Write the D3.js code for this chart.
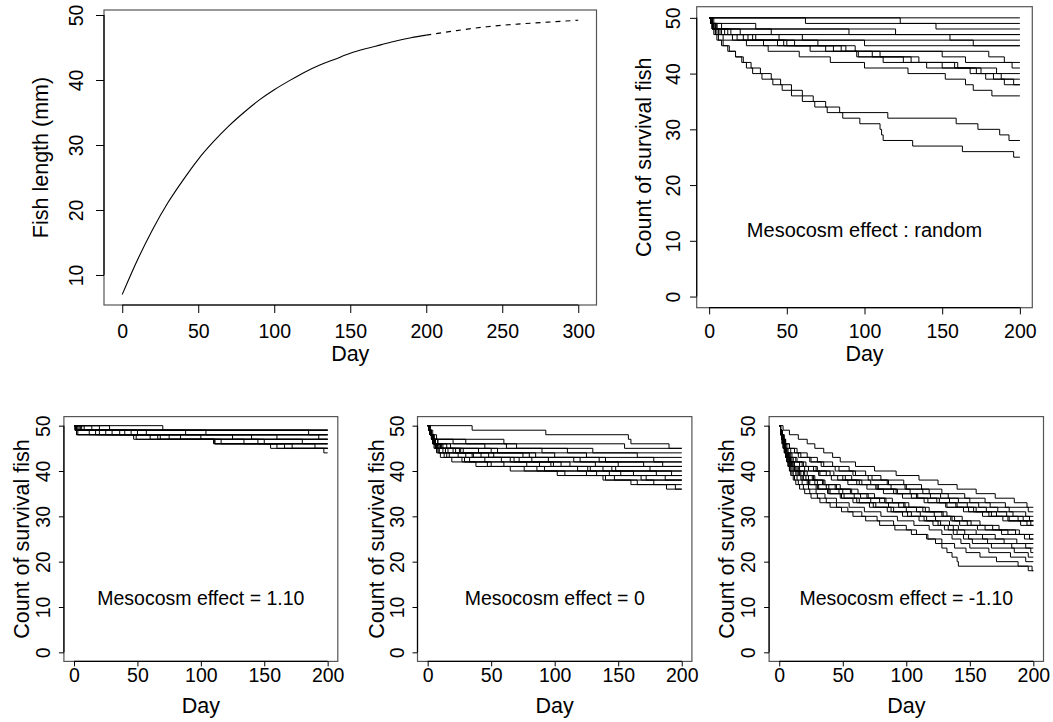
<!DOCTYPE html>
<html>
<head>
<meta charset="utf-8">
<script src="https://cdn.jsdelivr.net/npm/d3@7"></script>
<style>
  body { margin: 0; background: #fff; }
  text { font-family: "Liberation Sans", Arial, Helvetica, sans-serif; fill: #000; }
</style>
</head>
<body>
<svg id="fig" width="1053" height="722"></svg>
<script>
// growth curve
var growthDays = [0,10,20,30,40,50,60,70,80,90,100,110,120,130,140,150,160,170,180,190,200,220,240,260,280,300];
var growthLen  = [7.0,12.3,17.0,21.1,24.6,27.8,30.5,32.9,35.0,36.9,38.5,39.9,41.2,42.3,43.2,44.1,44.8,45.4,46.0,46.5,46.9,47.6,48.2,48.6,48.9,49.2];

// survival curves: the days on which one fish died (start at 50 fish, end at day 200)
var deathsRandom = [
  [],
  [123],
  [62,146],
  [3,30,90],
  [1,8,120],
  [2,5,40,155],
  [1,3,10,60,100],
  [2,4,20,45,170],
  [1,2,5,15,35,80,150,165],
  [1,3,8,25,55,94,180,190,195],
  [2,4,12,30,70,85,110,130,160,185],
  [1,2,6,18,44,65,95,112,140,175,188],
  [1,3,7,22,50,75,96,125,150,168,178,190],
  [2,5,14,28,48,88,105,135,158,172,183,196],
  [1,2,4,9,24,38,58,78,100,128,152,165,170,182],
  [1,2,3,5,8,12,17,22,27,33,40,46,53,60,67,75,84,115,159,173,187,193],
  [1,2,4,6,9,13,17,21,24,28,34,41,47,53,60,68,76,86,97,110,111,112,131,163,196]
];

var deathsPlus = [
  [5],[28],[70],[1],
  [2,40],[14,104],[1,185],[20,88],
  [1,2,47],[8,50,140],[3,36,160],[1,57,193],
  [2,20,66,110],[4,45,125,180],[1,12,84,150],
  [1,2,49,111,155],[6,30,100,134,166],[2,17,75,145,172],[1,3,60,116,190],
  [2,25,68,111,160,197]
];

var deathsZero = [
  [35,93,158,160,190],
  [1,3,5,60,155],
  [1,2,4,8,70,130],
  [2,3,5,20,45,110,165],
  [1,2,3,6,15,50,100,140],
  [1,4,7,30,62,90,125,178],
  [1,2,3,5,10,25,80,120,150],
  [2,3,4,8,18,40,85,135,170],
  [1,2,5,6,12,55,75,115,185],
  [1,2,3,4,7,22,36,65,105,145],
  [1,3,4,6,9,28,48,95,132,175],
  [1,2,3,5,8,14,30,58,88,128,162],
  [1,2,4,5,10,20,42,72,99,138,180],
  [2,3,4,6,11,26,52,82,112,148,192],
  [1,2,3,4,6,9,17,33,60,92,133,168],
  [1,2,3,5,7,12,24,45,78,118,152,187],
  [1,2,4,5,8,16,35,68,97,126,143,172],
  [1,2,3,4,5,8,13,27,50,76,108,138,160],
  [1,2,3,4,6,7,10,19,38,65,102,140,165,188],
  [1,2,3,5,6,9,15,29,47,86,125,147,178,195]
];

var deathsMinus = [
  [3,8,15,22,28,35,42,48,60,75,92,110,125,140,155,170,185,195],
  [1,2,4,5,8,14,22,30,42,55,68,80,98,112,128,146,162,178,196],
  [1,2,3,4,6,9,15,24,33,44,58,70,85,100,118,133,150,166,181,194],
  [1,1,2,3,4,5,7,10,18,27,40,52,65,78,92,108,124,139,155,171,188],
  [1,2,3,5,8,12,17,25,35,47,60,73,86,99,113,127,141,157,172,184,197],
  [1,2,2,3,4,6,9,13,19,30,43,57,72,88,103,119,134,148,163,179,192],
  [1,2,3,4,5,6,8,11,16,23,32,46,61,77,93,109,126,140,153,167,181,198],
  [1,2,3,3,4,5,7,9,12,20,31,41,54,69,82,97,114,131,145,160,176,190],
  [1,1,2,3,5,7,10,14,21,29,37,50,63,76,90,104,117,132,149,165,180,195],
  [1,2,3,4,5,6,7,9,12,16,22,28,36,48,62,75,89,102,118,132,144,158,173,189],
  [1,1,2,3,4,5,6,8,10,14,19,26,34,45,57,70,84,98,113,129,138,151,168,186],
  [1,2,2,3,4,5,6,8,10,13,17,23,30,39,50,64,79,94,108,122,135,142,156,175,193],
  [1,2,3,3,4,5,7,9,11,15,20,27,35,44,56,69,83,99,115,128,136,148,162,180,197],
  [1,1,2,3,4,5,6,7,9,12,16,21,28,37,47,59,72,86,100,111,123,134,141,155,170,187],
  [1,2,3,4,4,5,6,8,10,12,15,19,24,31,40,51,63,76,90,104,116,127,137,146,160,177,194],
  [1,1,2,3,4,5,6,7,8,10,13,17,22,29,38,49,61,74,88,101,114,125,133,140,149,164,183,198],
  [1,2,2,3,4,5,6,7,9,11,14,18,23,30,39,48,58,71,85,97,110,121,130,137,145,152,167,185,196],
  [1,1,2,3,3,4,5,6,7,9,11,14,18,23,29,36,45,55,67,80,93,106,118,128,136,143,150,165,182,194],
  [1,1,2,2,3,4,5,6,7,8,10,12,15,19,24,30,37,45,54,65,77,90,100,108,116,123,128,132,136,140,141,196],
  [1,2,2,3,4,4,5,6,7,8,9,11,13,16,20,25,32,40,49,58,68,79,91,104,117,128,138,147,158,171,188,199]
];

var dayTicksLong  = [0,50,100,150,200,250,300];
var dayTicks      = [0,50,100,150,200];
var lengthTicks   = [10,20,30,40,50];
var countTicks    = [0,10,20,30,40,50];
var effectLabels  = ["Mesocosm effect : random", "Mesocosm effect = 1.10", "Mesocosm effect = 0", "Mesocosm effect = -1.10"];

var svg = d3.select("#fig");

function stepPoints(deaths) {
  var n = 50, pts = [[0, 50]];
  deaths.forEach(function(d) { n -= 1; pts.push([d, n]); });
  pts.push([200, n]);
  return pts;
}

// one R-style panel: box, axes with outward ticks, rotated y labels
function panel(p) {
  var g = svg.append("g");
  var x = d3.scaleLinear().domain(p.xd).range([p.l, p.r]);
  var y = d3.scaleLinear().domain(p.yd).range([p.b, p.t]);

  g.append("rect").attr("x", p.l).attr("y", p.t)
    .attr("width", p.r - p.l).attr("height", p.b - p.t)
    .attr("fill", "none").attr("stroke", "#555").attr("stroke-width", 1.2);

  var xa = g.append("g").attr("transform", "translate(0," + p.b + ")")
    .call(d3.axisBottom(x).tickValues(p.xt).tickSize(p.tick).tickSizeOuter(0).tickFormat(d3.format("d")));
  xa.select(".domain").remove();
  xa.selectAll("line").attr("stroke", "#000");
  xa.selectAll("text").attr("y", p.xlab).attr("dy", 0).style("font-size", p.fs + "px");
  xa.append("line").attr("x1", x(p.xt[0])).attr("x2", x(p.xt[p.xt.length - 1]))
    .attr("stroke", "#000").attr("stroke-width", 1.2);

  var ya = g.append("g").attr("transform", "translate(" + p.l + ",0)")
    .call(d3.axisLeft(y).tickValues(p.yt).tickSize(p.tick).tickSizeOuter(0).tickFormat(d3.format("d")));
  ya.select(".domain").remove();
  ya.selectAll("line").attr("stroke", "#000");
  ya.selectAll("text")
    .attr("x", null).attr("dy", 0)
    .attr("text-anchor", "middle")
    .attr("transform", "translate(" + (-p.ylab) + ",0) rotate(-90)")
    .style("font-size", p.fs + "px");
  ya.append("line").attr("y1", y(p.yt[0])).attr("y2", y(p.yt[p.yt.length - 1]))
    .attr("stroke", "#000").attr("stroke-width", 1.2);

  g.append("text").attr("x", (p.l + p.r) / 2).attr("y", p.xtitle)
    .attr("text-anchor", "middle").style("font-size", p.fst + "px").text("Day");
  g.append("text")
    .attr("transform", "translate(" + p.ytitle + "," + ((p.t + p.b) / 2) + ") rotate(-90)")
    .attr("text-anchor", "middle").style("font-size", p.fst + "px").text(p.ylabel);

  return { g: g, x: x, y: y };
}

// top left: growth curve
var pg = panel({ l: 104, r: 596.5, t: 10, b: 305, xd: [-12, 312], yd: [5.38, 50.77],
  xt: dayTicksLong, yt: lengthTicks, tick: 8, xlab: 33, ylab: 20.7, xtitle: 361, ytitle: 48,
  fs: 19.5, fst: 21.5, ylabel: "Fish length (mm)" });
var growth = growthDays.map(function(d, i) { return [d, growthLen[i]]; });
var gline = d3.line().x(function(d) { return pg.x(d[0]); }).y(function(d) { return pg.y(d[1]); })
  .curve(d3.curveMonotoneX);
pg.g.append("path").attr("d", gline(growth.filter(function(d) { return d[0] <= 200; })))
  .attr("fill", "none").attr("stroke", "#000").attr("stroke-width", 1.1);
pg.g.append("path").attr("d", gline(growth.filter(function(d) { return d[0] >= 200; })))
  .attr("fill", "none").attr("stroke", "#000").attr("stroke-width", 1.1).attr("stroke-dasharray", "5,5");

// survival panels
var survSpecs = [
  { data: deathsRandom, l: 696.7, r: 1032.3, t: 6.7, b: 307.7, tick: 6.7, xlab: 30.5, ylab: 16.7, xtitle: 361, ytitle: 651, fa: 20 },
  { data: deathsPlus,  l: 63.9,  r: 337.8,  t: 416.6, b: 661.4, tick: 5, xlab: 21, ylab: 14, xtitle: 713, ytitle: 29, fa: 19.5 },
  { data: deathsZero,  l: 417.5, r: 691.9,  t: 416.6, b: 661.4, tick: 5, xlab: 21, ylab: 14, xtitle: 713, ytitle: 384, fa: 19.5 },
  { data: deathsMinus, l: 769.1, r: 1043.5, t: 416.6, b: 661.4, tick: 5, xlab: 21, ylab: 14, xtitle: 713, ytitle: 734, fa: 19.5 }
];

survSpecs.forEach(function(s, k) {
  var p = panel({ l: s.l, r: s.r, t: s.t, b: s.b, xd: [-8, 208], yd: [-2, 52],
    xt: dayTicks, yt: countTicks, tick: s.tick, xlab: s.xlab, ylab: s.ylab, xtitle: s.xtitle, ytitle: s.ytitle,
    fs: 19.5, fst: 21.5, ylabel: "Count of survival fish" });
  var line = d3.line().x(function(d) { return p.x(d[0]); }).y(function(d) { return p.y(d[1]); })
    .curve(d3.curveStepAfter);
  p.g.append("g").selectAll("path").data(s.data).enter().append("path")
    .attr("d", function(d) { return line(stepPoints(d)); })
    .attr("fill", "none").attr("stroke", "#000").attr("stroke-width", 1);
  p.g.append("text").attr("x", p.x(100)).attr("y", p.y(12)).attr("dy", "0.35em")
    .attr("text-anchor", "middle").style("font-size", s.fa + "px").text(effectLabels[k]);
});
</script>
</body>
</html>
